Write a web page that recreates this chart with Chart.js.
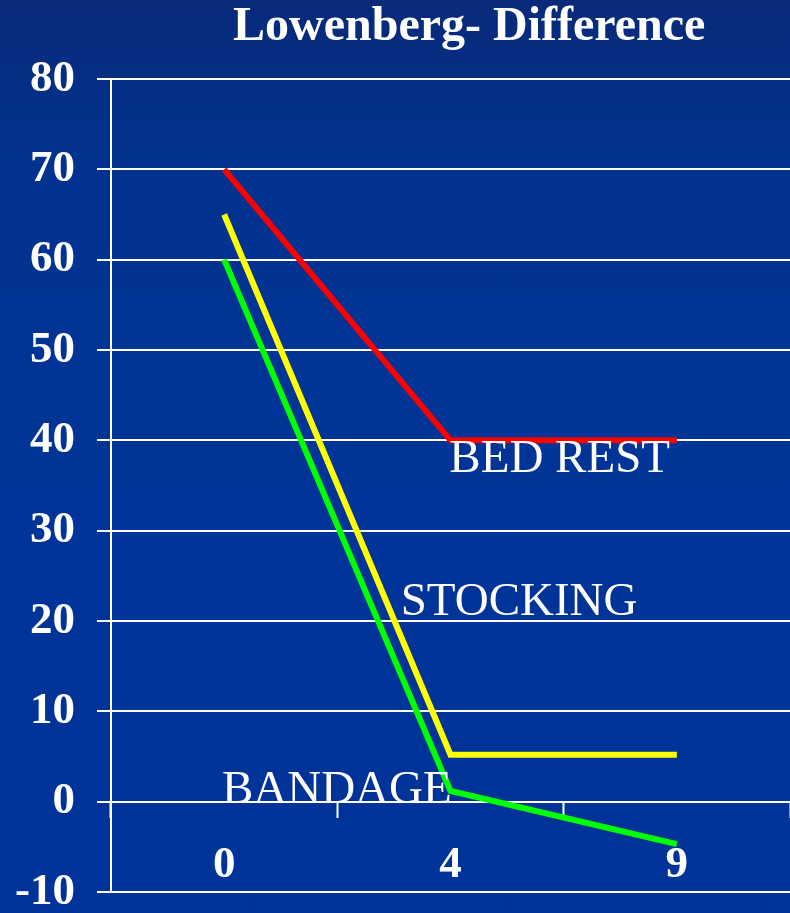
<!DOCTYPE html>
<html>
<head>
<meta charset="utf-8">
<title>Lowenberg- Difference</title>
<script src="https://cdn.jsdelivr.net/npm/chart.js@4/dist/chart.umd.min.js"></script>
<style>
  html, body { margin: 0; padding: 0; }
  body {
    width: 790px; height: 913px; overflow: hidden;
    background: linear-gradient(to bottom, #082a79 0%, #02328f 18%, #003497 45%, #003399 100%);
  }
  #wrap { position: relative; width: 790px; height: 913px; }
</style>
</head>
<body>
<div id="wrap"><canvas id="chart" width="790" height="913"></canvas></div>
<script>
// Weeks after treatment start
const weeks = ['0', '4', '9'];

// Difference per treatment group
const bedRest  = [70, 40, 40];
const stocking = [65, 5.2, 5.2];
const bandage  = [60, 1.2, -4.7];

// Y axis range and step
const yMin = -10;
const yMax = 80;
const yStep = 10;

const chartTitle = 'Lowenberg- Difference';
const groupNames = ['BED REST', 'STOCKING', 'BANDAGE'];

const serif = '"Liberation Serif", "Times New Roman", serif';

// Writes the title and the group names beside their lines
const textPlugin = {
  id: 'chartText',
  afterDatasetsDraw(chart, args, opts) {
    const { ctx, scales } = chart;
    ctx.save();
    ctx.fillStyle = '#ffffff';
    ctx.textBaseline = 'alphabetic';
    ctx.textAlign = 'left';
    ctx.font = 'bold 48px ' + serif;
    ctx.fillText(opts.title, opts.titleX, opts.titleY);

    ctx.font = '47px ' + serif;
    opts.names.forEach((n) => {
      const x = scales.x.getPixelForValue(n.at);
      const y = scales.y.getPixelForValue(n.value);
      ctx.fillText(n.text, x, y);
    });
    ctx.restore();
  }
};

const tickFont = { family: serif, size: 45, weight: 'bold', lineHeight: 0.85 };

new Chart(document.getElementById('chart'), {
  type: 'line',
  data: {
    labels: weeks,
    datasets: [
      { label: groupNames[0], data: bedRest,  borderColor: '#ff0000' },
      { label: groupNames[1], data: stocking, borderColor: '#ffff00' },
      { label: groupNames[2], data: bandage,  borderColor: '#00ff00' }
    ]
  },
  options: {
    responsive: false,
    animation: false,
    events: [],
    layout: { padding: { left: 16, top: 79, bottom: 21, right: 0 } },
    elements: {
      line: { borderWidth: 6, tension: 0, borderCapStyle: 'butt', borderJoinStyle: 'miter', fill: false },
      point: { radius: 0, hoverRadius: 0 }
    },
    plugins: {
      legend: { display: false },
      tooltip: { enabled: false },
      title: { display: false },
      chartText: {
        title: chartTitle,
        titleX: 233,
        titleY: 40,
        names: [
          { text: groupNames[0], at: 0.995, value: 36.5 },
          { text: groupNames[1], at: 0.78,  value: 20.7 },
          { text: groupNames[2], at: -0.01, value: -0.2 }
        ]
      }
    },
    scales: {
      x: {
        position: { y: 0 },
        offset: true,
        grid: {
          display: true,
          offset: true,
          drawOnChartArea: false,
          drawTicks: true,
          tickLength: 15,
          tickWidth: 2,
          color: '#ffffff'
        },
        border: { display: true, color: '#ffffff', width: 2 },
        ticks: { color: '#ffffff', font: tickFont, padding: 30, maxRotation: 0 }
      },
      y: {
        min: yMin,
        max: yMax,
        afterFit(scale) {
          scale.width = 95;
          scale.paddingTop = 0;
          scale.paddingBottom = 0;
        },
        grid: {
          color: '#ffffff',
          lineWidth: 2,
          tickLength: 14,
          drawTicks: true
        },
        border: { display: true, color: '#ffffff', width: 2 },
        ticks: { stepSize: yStep, color: '#ffffff', font: tickFont, padding: 22 }
      }
    }
  },
  plugins: [textPlugin]
});
</script>
</body>
</html>
